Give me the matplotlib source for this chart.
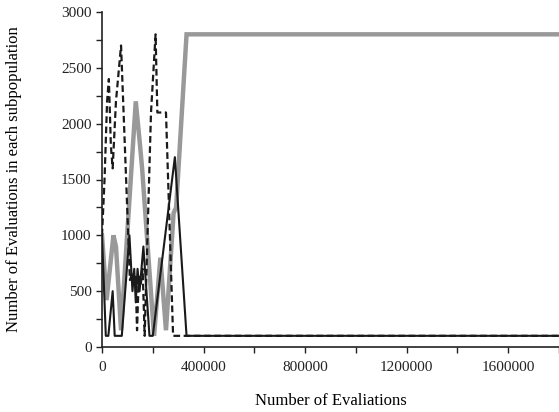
import matplotlib
matplotlib.use("Agg")
import matplotlib.pyplot as plt
from matplotlib.ticker import MultipleLocator

plt.rcParams['font.family'] = ['Liberation Serif', 'DejaVu Serif']

# Gray thick series
gray_x = [0, 18000, 45000, 55000, 75000, 133000, 150000, 158000, 205000, 230000, 252000, 282000, 292000, 333000, 1800000]
gray_y = [1000, 420, 1000, 900, 150, 2200, 1800, 1600, 100, 800, 150, 1200, 1250, 2800, 2800]

# Black solid series
black_x = [0, 15000, 25000, 42000, 50000, 78000, 108000, 120000, 127000, 133000, 140000, 148000, 163000, 187000, 200000, 287000, 333000, 1800000]
black_y = [1000, 100, 100, 500, 100, 100, 1000, 500, 700, 400, 700, 500, 900, 100, 100, 1700, 100, 100]

# Black dashed series
dash_x = [0, 10000, 20000, 27000, 35000, 42000, 55000, 75000, 95000, 110000, 118000, 125000, 132000, 138000, 145000, 152000, 160000, 168000, 193000, 211000, 218000, 252000, 280000, 1800000]
dash_y = [1000, 1500, 2200, 2400, 1800, 1600, 2200, 2700, 1500, 600, 650, 550, 650, 150, 650, 550, 700, 100, 2100, 2800, 2100, 2100, 100, 100]

x_ticks = [0, 400000, 800000, 1200000, 1600000]
y_ticks = [0, 500, 1000, 1500, 2000, 2500, 3000]

fig = plt.figure(figsize=(5.59, 4.12), dpi=100)
ax = fig.add_axes([102/559, 65/412, (559-102)/559, (347-12)/412])

ax.plot(gray_x, gray_y, color='#999999', lw=3.2, solid_joinstyle='miter', zorder=2)
ax.plot(black_x, black_y, color='#1a1a1a', lw=1.5, zorder=3)
ax.plot(dash_x, dash_y, color='#1a1a1a', lw=1.6, ls=(0, (3, 1.6)), zorder=4)

ax.set_xlim(0, 1800000)
ax.set_ylim(0, 3000)
ax.set_xticks(x_ticks)
ax.set_xticklabels([str(v) for v in x_ticks])
ax.set_yticks(y_ticks)
ax.set_yticklabels([str(v) for v in y_ticks])
ax.xaxis.set_minor_locator(MultipleLocator(200000))
ax.yaxis.set_minor_locator(MultipleLocator(250))
ax.tick_params(which='both', direction='out', length=4, width=1, colors='#222222', labelsize=11)
ax.tick_params(axis='x', pad=6)
for s in ['top', 'right']:
    ax.spines[s].set_visible(False)
for s in ['left', 'bottom']:
    ax.spines[s].set_linewidth(1.2)
    ax.spines[s].set_color('#222222')

ax.set_xlabel('Number of Evaliations', fontsize=12, labelpad=14)
ax.set_ylabel('Number of Evaluations in each subpopulation', fontsize=12)
ax.yaxis.set_label_coords(-80/457, 0.5)

fig.savefig('out.png', dpi=100)
